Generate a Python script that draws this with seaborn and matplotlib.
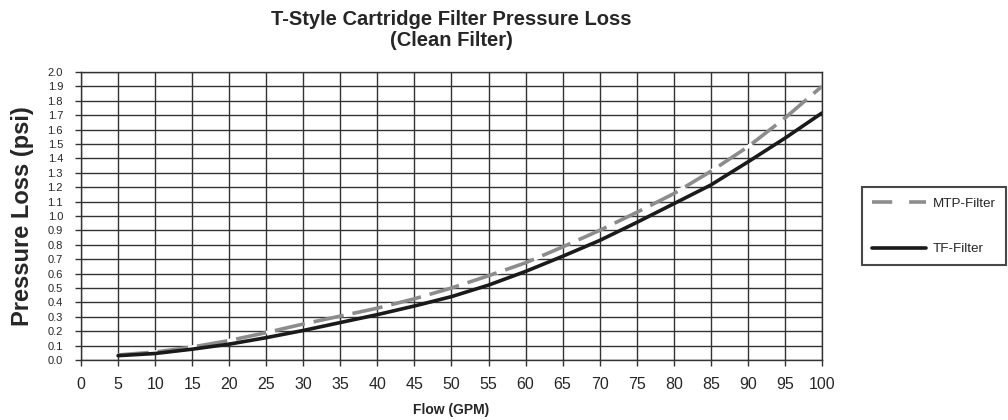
import matplotlib
matplotlib.use("Agg")
import matplotlib.pyplot as plt
import seaborn as sns
from matplotlib.lines import Line2D

# data
flow = [5, 10, 15, 20, 25, 30, 35, 40, 45, 50, 55, 60, 65, 70, 75, 80, 85, 90, 95, 100]
tf_filter = [0.03, 0.045, 0.075, 0.11, 0.155, 0.205, 0.26, 0.315, 0.375, 0.44,
             0.52, 0.615, 0.72, 0.83, 0.955, 1.085, 1.215, 1.375, 1.54, 1.715]
mtp_filter = [0.035, 0.055, 0.09, 0.135, 0.19, 0.25, 0.305, 0.36, 0.425, 0.50,
              0.585, 0.675, 0.785, 0.9, 1.025, 1.155, 1.31, 1.48, 1.68, 1.90]
x_ticks = list(range(0, 101, 5))
y_ticks = [round(i * 0.1, 1) for i in range(21)]

sns.set_style("white")
plt.rcParams['font.family'] = ['Liberation Sans', 'DejaVu Sans']

fig = plt.figure(figsize=(10.08, 4.2), dpi=100)
ax = fig.add_axes([0.0804, 0.1429, 0.735, 0.6857])

sns.lineplot(x=flow, y=mtp_filter, color='#8c8c8c', linewidth=2.6, ax=ax)
sns.lineplot(x=flow, y=tf_filter, color='#1a1a1a', linewidth=2.6, ax=ax)
mtp_line = ax.lines[0]
mtp_line.set_dashes((8.5, 2.5))
mtp_line.set_gapcolor('white')
mtp_line.set_zorder(3)
ax.lines[1].set_zorder(4)

ax.set_xlim(0, 100)
ax.set_ylim(0, 2.0)
ax.set_xticks(x_ticks)
ax.set_yticks(y_ticks)
ax.set_yticklabels([f"{v:.1f}" for v in y_ticks], fontsize=8)
ax.set_xticklabels([str(v) for v in x_ticks], fontsize=11.5)
ax.tick_params(axis='both', direction='out', length=4, width=1, color='#333333',
               bottom=True, left=True)
ax.tick_params(axis='y', pad=9)
ax.tick_params(axis='x', pad=8)

ax.grid(True, color='#333333', linewidth=1.0)
ax.set_axisbelow(True)
for side in ['left', 'bottom', 'right', 'top']:
    ax.spines[side].set_visible(True)
    ax.spines[side].set_color('#333333')
    ax.spines[side].set_linewidth(1.0)

ax.set_xlabel('Flow (GPM)', fontsize=10, fontweight='bold', labelpad=8)
ax.set_ylabel('Pressure Loss (psi)', fontsize=17, fontweight='bold', labelpad=10)
ax.set_title('T-Style Cartridge Filter Pressure Loss\n(Clean Filter)',
             fontsize=14.5, fontweight='bold', pad=19, linespacing=1.1)

handles = [
    Line2D([0], [0], color='#8c8c8c', linewidth=2.6, dashes=(5.6, 4.7)),
    Line2D([0], [0], color='#1a1a1a', linewidth=2.6),
]
leg = fig.legend(handles, ['MTP-Filter', 'TF-Filter'], loc='center left',
                 bbox_to_anchor=(0.855, 0.461), fontsize=9.7, frameon=True,
                 fancybox=False, handlelength=4.0, labelspacing=2.45,
                 borderpad=0.75, handletextpad=0.5, borderaxespad=0)
leg.get_frame().set_edgecolor('#1a1a1a')
leg.get_frame().set_linewidth(1.5)

fig.savefig('out.png', dpi=100)
